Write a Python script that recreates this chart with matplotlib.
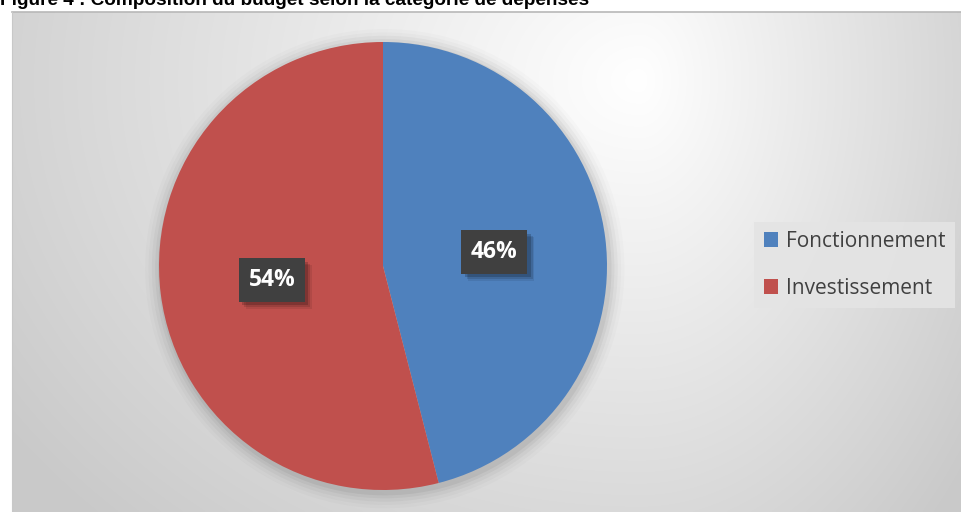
import numpy as np
import matplotlib
matplotlib.use("Agg")
import matplotlib.pyplot as plt
import matplotlib.patheffects as pe

# ---- data ----
categories = ["Fonctionnement", "Investissement"]
shares = [46, 54]
colors = ["#4F81BD", "#C0504D"]
title = "Figure 4 : Composition du budget selon la catégorie de dépenses"

W, H = 962, 512
fig = plt.figure(figsize=(W / 100, H / 100), dpi=100)
fig.patch.set_facecolor("white")

# ---- chart area background: radial gradient ----
bg = fig.add_axes([12 / W, 0, (W - 12) / W, (H - 12) / H])
nx, ny = 480, 250
xx, yy = np.meshgrid(np.linspace(12, W, nx), np.linspace(12, H, ny))
cx, cy = 640, 80
sx = np.where(xx < cx, 700.0, 380.0)
d = np.sqrt(((xx - cx) / sx) ** 2 + ((yy - cy) / 560) ** 2)
d = np.clip(d, 0, 1.1)
val = 1.0 - 0.19 * d
bg.imshow(np.dstack([val, val, val]), extent=[0, 1, 0, 1], aspect="auto",
          origin="upper", interpolation="bilinear")
bg.set_xlim(0, 1)
bg.set_ylim(0, 1)
bg.axis("off")
# top border of chart area
fig.add_artist(plt.Line2D([12 / W, 1], [1 - 12 / H, 1 - 12 / H], color="#b8b8b8", lw=1.2))
fig.add_artist(plt.Line2D([12 / W, 12 / W], [0, 1 - 12 / H], color="#c8c8c8", lw=0.8))

# ---- title (cropped at top, as in the source) ----
fig.text(0.0, 1 - 5 / H, title, fontsize=13.7, fontweight="bold",
         family="Liberation Sans", color="black", ha="left", va="baseline")

# ---- pie ----
cxp, cyp, r = 383, 266, 224
ax = fig.add_axes([(cxp - 1.1 * r) / W, (H - cyp - 1.1 * r) / H, 2.2 * r / W, 2.2 * r / H])

# soft shadow
for rr, a in [(1.07, 0.015), (1.055, 0.02), (1.04, 0.03), (1.025, 0.04), (1.012, 0.05)]:
    ax.add_patch(plt.Circle((0.008, -0.012), rr, color="black", alpha=a, lw=0, zorder=0))

wedges, texts, autotexts = ax.pie(
    shares, colors=colors, startangle=90, counterclock=False,
    radius=1, autopct="%d%%", pctdistance=0.5,
    wedgeprops=dict(linewidth=0),
    textprops=dict(color="white", fontsize=16.5, fontweight="bold", family="Open Sans"),
)
for t in autotexts:
    t.set_bbox(dict(boxstyle="square,pad=0.42", facecolor="#404040", edgecolor="none"))
    t.get_bbox_patch().set_path_effects([
        pe.SimplePatchShadow(offset=(5, -5), shadow_rgbFace="black", alpha=0.08),
        pe.SimplePatchShadow(offset=(4, -4), shadow_rgbFace="black", alpha=0.12),
        pe.SimplePatchShadow(offset=(2.5, -2.5), shadow_rgbFace="black", alpha=0.18),
        pe.Normal()])
ax.set_xlim(-1.1, 1.1)
ax.set_ylim(-1.1, 1.1)
ax.set_aspect("equal")
ax.axis("off")

# ---- legend ----
leg = fig.legend(wedges, categories, loc="center",
                 bbox_to_anchor=(753 / W, (H - 310) / H, 203 / W, 90 / H),
                 prop=dict(family="Open Sans", size=15), labelcolor="#404040",
                 frameon=True, fancybox=False, handlelength=0.7, handleheight=0.7,
                 handletextpad=0.35, labelspacing=1.25, borderpad=0.45, borderaxespad=0)
leg.get_frame().set_facecolor("#e4e4e4")
leg.get_frame().set_edgecolor("none")
leg.get_frame().set_alpha(0.9)

fig.savefig("out.png", dpi=100)
